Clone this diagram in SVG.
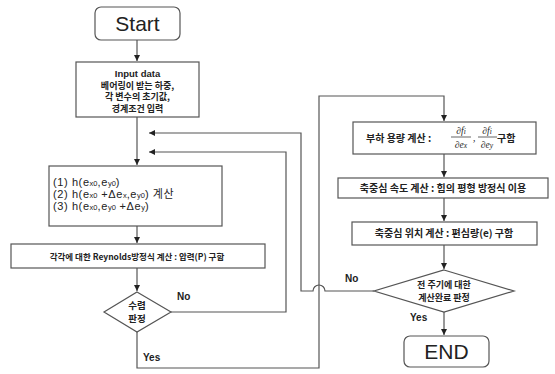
<svg xmlns="http://www.w3.org/2000/svg" width="555" height="374" viewBox="0 0 555 374">
<defs>
<marker id="ah" markerWidth="6" markerHeight="6" refX="6" refY="3" orient="auto" markerUnits="userSpaceOnUse">
<path d="M0,0 L6,3 L0,6 Z" fill="#222"/>
</marker>
<style>
.box{fill:#fff;stroke:#555;stroke-width:1.2}
.ln{fill:none;stroke:#555;stroke-width:1.2}
.t{font-family:"Noto Sans CJK KR","Liberation Sans",sans-serif;font-size:10px;fill:#222;font-weight:bold}
.c{font-family:"Liberation Sans","Noto Sans CJK KR",sans-serif;font-size:11px;letter-spacing:0.6px;fill:#222}
.big{font-family:"Liberation Sans",sans-serif;font-size:21px;fill:#222}
.lab{font-family:"Liberation Sans",sans-serif;font-size:10px;font-weight:bold;fill:#222}
.fr{font-family:"Liberation Serif",serif;font-style:italic;font-size:9.5px;fill:#222}
.sb{font-size:7.5px;letter-spacing:0}
</style>
</defs>
<rect width="555" height="374" fill="#fff"/>
<g id="connectors">
<path class="ln" d="M137,40 V61" marker-end="url(#ah)"/>
<path class="ln" d="M137,117 V165" marker-end="url(#ah)"/>
<path class="ln" d="M137,226 V243" marker-end="url(#ah)"/>
<path class="ln" d="M137,268 V291" marker-end="url(#ah)"/>
<path class="ln" d="M171,312 H286 V152 H149" marker-end="url(#ah)"/>
<path class="ln" d="M137,332 V368 H319 V96 H444 V121" marker-end="url(#ah)"/>
<path class="ln" d="M374,291 H325 A6,6 0 0 0 313,291 H301 V133 H149" marker-end="url(#ah)"/>
<path class="ln" d="M444,154 V177" marker-end="url(#ah)"/>
<path class="ln" d="M444,198 V221" marker-end="url(#ah)"/>
<path class="ln" d="M444,245 V269" marker-end="url(#ah)"/>
<path class="ln" d="M444,312 V335" marker-end="url(#ah)"/>
</g>
<g id="start">
<rect class="box" x="95" y="7" width="85" height="33" rx="6"/>
<text class="big" x="137.5" y="31" text-anchor="middle">Start</text>
</g>
<g id="input">
<rect class="box" x="76" y="62" width="123" height="55"/>
<text class="lab" x="137.5" y="76.5" text-anchor="middle" style="font-size:9.5px">Input data</text>
<text class="t" x="137.5" y="88.5" text-anchor="middle" style="font-size:9px">베어링이 받는 하중,</text>
<text class="t" x="137.5" y="100" text-anchor="middle" style="font-size:9px">각 변수의 초기값,</text>
<text class="t" x="137.5" y="111.5" text-anchor="middle" style="font-size:9px">경계조건 입력</text>
</g>
<g id="calc">
<rect class="box" x="49" y="166" width="173" height="60"/>
<text class="c" x="53" y="186">(1) h(e<tspan class="sb">x0</tspan>,e<tspan class="sb">y0</tspan>)</text>
<text class="c" x="53" y="198">(2) h(e<tspan class="sb">x0</tspan> +Δe<tspan class="sb">x</tspan>,e<tspan class="sb">y0</tspan>) 계산</text>
<text class="c" x="53" y="210">(3) h(e<tspan class="sb">x0</tspan>,e<tspan class="sb">y0</tspan> +Δe<tspan class="sb">y</tspan>)</text>
</g>
<g id="reynolds">
<rect class="box" x="11" y="244" width="254" height="24"/>
<text class="t" x="137" y="259.5" text-anchor="middle" style="font-size:8.5px">각각에 대한 Reynolds방정식 계산 : 압력(P) 구함</text>
</g>
<g id="converge">
<path class="box" d="M137,292 L171,312 L137,332 L104,312 Z"/>
<text class="t" x="137" y="308.5" text-anchor="middle" style="font-size:9.5px">수렴</text>
<text class="t" x="137" y="321.5" text-anchor="middle" style="font-size:9.5px">판정</text>
<text class="lab" x="177" y="300">No</text>
<text class="lab" x="143" y="361">Yes</text>
</g>
<g id="load">
<rect class="box" x="353" y="122" width="183" height="32"/>
<text class="t" x="366" y="142">부하 용량 계산 :</text>
<text class="fr" x="461" y="134" text-anchor="middle">∂f<tspan class="sb">i</tspan></text>
<line x1="451" y1="137" x2="471" y2="137" stroke="#222" stroke-width="0.7"/>
<text class="fr" x="461" y="148" text-anchor="middle">∂e<tspan class="sb">x</tspan></text>
<text class="fr" x="473" y="141">,</text>
<text class="fr" x="487" y="134" text-anchor="middle">∂f<tspan class="sb">i</tspan></text>
<line x1="478" y1="137" x2="497" y2="137" stroke="#222" stroke-width="0.7"/>
<text class="fr" x="487" y="148" text-anchor="middle">∂e<tspan class="sb">y</tspan></text>
<text class="t" x="497" y="142">구함</text>
</g>
<g id="velocity">
<rect class="box" x="338" y="178" width="210" height="20"/>
<text class="t" x="443" y="192" text-anchor="middle">축중심 속도 계산 : 힘의 평형 방정식 이용</text>
</g>
<g id="position">
<rect class="box" x="352" y="222" width="185" height="23"/>
<text class="t" x="444" y="237" text-anchor="middle">축중심 위치 계산 : 편심량(e) 구함</text>
</g>
<g id="cycle">
<path class="box" d="M444,270 L514,291 L444,312 L374,291 Z"/>
<text class="t" x="444" y="288" text-anchor="middle" style="font-size:9px">전 주기에 대한</text>
<text class="t" x="444" y="301" text-anchor="middle" style="font-size:9px">계산완료 판정</text>
<text class="lab" x="345" y="282">No</text>
<text class="lab" x="410" y="321">Yes</text>
</g>
<g id="end">
<rect class="box" x="404" y="336" width="85" height="31" rx="6"/>
<text class="big" x="446.5" y="359" text-anchor="middle">END</text>
</g>
</svg>
